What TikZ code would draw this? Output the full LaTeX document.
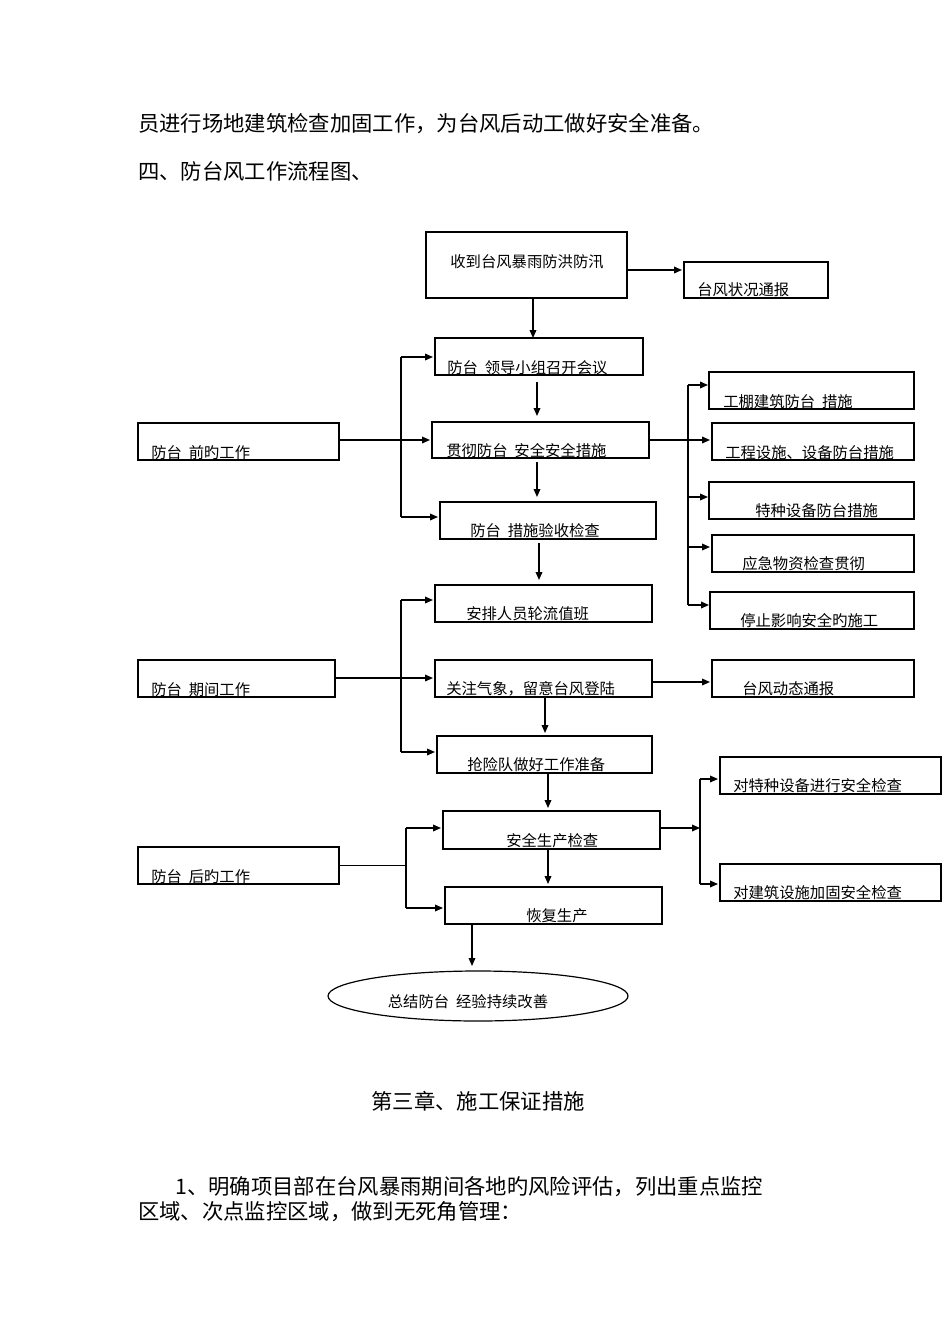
\documentclass[tikz,border=0pt]{standalone}
\usepackage{fontspec}
\setmainfont{Noto Sans CJK SC}
\usetikzlibrary{arrows.meta}
\begin{document}
\begin{tikzpicture}[x=0.75pt,y=-0.75pt,
  bx/.style={draw,line width=0.9pt},
  t/.style={font=\fontsize{11.5pt}{12pt}\selectfont,inner sep=0pt,anchor=base west},
  bt/.style={font=\fontsize{16pt}{18pt}\selectfont,inner sep=0pt,anchor=base west},
  ar/.style={line width=1pt,-{Triangle[length=6pt,width=5pt]}},
  ln/.style={line width=1pt}]
\useasboundingbox[fill=white] (0,0) rectangle (950,1344);
\node[bt] (p1) at (138,132) {员进行场地建筑检查加固工作，为台风后动工做好安全准备。};
\node[bt] (p2) at (138,180) {四、防台风工作流程图、};
\node[bt,anchor=base] (p3) at (478,1109) {第三章、施工保证措施};
\node[bt] (p4) at (175,1194) {1、明确项目部在台风暴雨期间各地旳风险评估，列出重点监控};
\node[bt] (p5) at (138,1219) {区域、次点监控区域，做到无死角管理：};
% boxes
\draw[bx] (426,232) rectangle (627,298); \node[t,anchor=base] (a) at (527,268) {收到台风暴雨防洪防汛};
\draw[bx] (684,262) rectangle (828,298); \node[t] at (697,296) {台风状况通报};
\draw[bx] (435,338) rectangle (643,375); \node[t] at (447,373) {防台\ \ 领导小组召开会议};
\draw[bx] (432,422) rectangle (649,458); \node[t] at (446,456) {贯彻防台\ \ 安全安全措施};
\draw[bx] (440,502) rectangle (656,539); \node[t] at (470,536) {防台\ \ 措施验收检查};
\draw[bx] (435,585) rectangle (652,622); \node[t] at (466,619) {安排人员轮流值班};
\draw[bx] (435,660) rectangle (652,697); \node[t] at (446,694) {关注气象，留意台风登陆};
\draw[bx] (437,736) rectangle (652,773); \node[t] at (467,770) {抢险队做好工作准备};
\draw[bx] (443,811) rectangle (660,849); \node[t] at (506,846) {安全生产检查};
\draw[bx] (445,887) rectangle (662,924); \node[t] at (526,921) {恢复生产};
\draw[bx] (478,996) ellipse (150 and 25); \node[t,anchor=base] at (468,1007) {总结防台\ \ 经验持续改善};
\draw[bx] (138,423) rectangle (339,460); \node[t] at (151,458) {防台\ \ 前旳工作};
\draw[bx] (138,660) rectangle (335,697); \node[t] at (151,695) {防台\ \ 期间工作};
\draw[bx] (138,847) rectangle (339,884); \node[t] at (151,882) {防台\ \ 后旳工作};
\draw[bx] (709,372) rectangle (914,409); \node[t] at (723,407) {工棚建筑防台\ \ 措施};
\draw[bx] (712,423) rectangle (914,460); \node[t] at (725,458) {工程设施、设备防台措施};
\draw[bx] (709,482) rectangle (914,519); \node[t] at (755,516) {特种设备防台措施};
\draw[bx] (712,535) rectangle (914,572); \node[t] at (742,569) {应急物资检查贯彻};
\draw[bx] (710,592) rectangle (914,629); \node[t] at (740,626) {停止影响安全旳施工};
\draw[bx] (712,660) rectangle (914,697); \node[t] at (742,694) {台风动态通报};
\draw[bx] (720,757) rectangle (941,794); \node[t] at (733,791) {对特种设备进行安全检查};
\draw[bx] (720,864) rectangle (941,901); \node[t] at (733,898) {对建筑设施加固安全检查};
% vertical arrows
\draw[ar] (533,298) -- (533,338);
\draw[ar] (627,270) -- (682,270);
\draw[ar] (537,382) -- (537,416);
\draw[ar] (537,462) -- (537,497);
\draw[ar] (539,543) -- (539,580);
\draw[ar] (545,697) -- (545,733);
\draw[ar] (548,773) -- (548,808);
\draw[ar] (548,849) -- (548,884);
\draw[ar] (472,924) -- (472,966);
% before
\draw[ln] (401,357) -- (401,517);
\draw[ar] (401,357) -- (433,357);
\draw[ar] (339,440) -- (430,440);
\draw[ar] (401,517) -- (438,517);
\draw[ln] (688,385) -- (688,605);
\draw[ar] (649,440) -- (710,440);
\draw[ar] (688,385) -- (708,385);
\draw[ar] (688,497) -- (708,497);
\draw[ar] (688,547) -- (710,547);
\draw[ar] (688,605) -- (709,605);
% during
\draw[ln] (401,600) -- (401,752);
\draw[ar] (401,600) -- (433,600);
\draw[ar] (335,678) -- (433,678);
\draw[ar] (401,752) -- (435,752);
\draw[ar] (652,682) -- (710,682);
% after
\draw[ln] (406,828) -- (406,908);
\draw[line width=0.7pt] (339,865) -- (406,865);
\draw[ar] (406,828) -- (441,828);
\draw[ar] (406,908) -- (443,908);
\draw[ar] (660,828) -- (700,828);
\draw[ln] (700,779) -- (700,884);
\draw[ar] (700,779) -- (718,779);
\draw[ar] (700,884) -- (718,884);
\end{tikzpicture}
\end{document}
